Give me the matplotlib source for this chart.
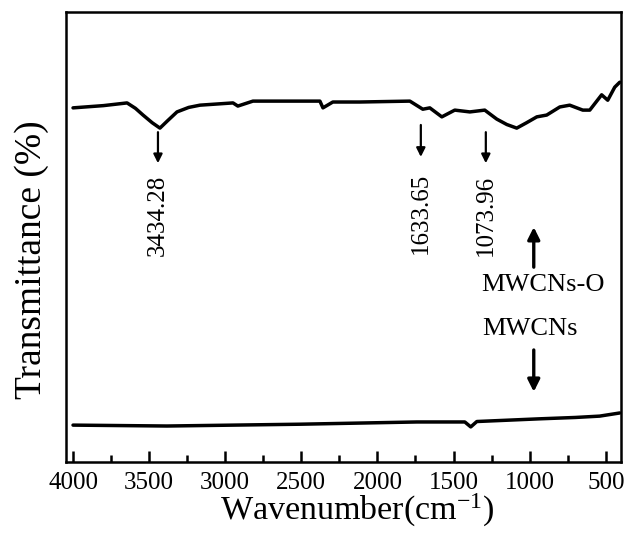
import matplotlib
matplotlib.use("Agg")
import matplotlib.pyplot as plt
from matplotlib.ticker import MultipleLocator

plt.rcParams['font.family'] = ['Liberation Serif', 'DejaVu Serif']
plt.rcParams['mathtext.fontset'] = 'custom'
plt.rcParams['mathtext.rm'] = 'Liberation Serif'
plt.rcParams['mathtext.it'] = 'Liberation Serif:italic'

# MWCNs-O spectrum (upper curve)
wn_o = [4000, 3800, 3645, 3590, 3540, 3480, 3429, 3380, 3317, 3240, 3166, 2949,
        2917, 2818, 2378, 2358, 2293, 2116, 1787, 1702, 1656, 1577, 1492, 1393,
        1295, 1216, 1150, 1085, 1020, 953, 888, 802, 737, 651, 605, 527, 487,
        441, 408]
t_o = [78.7, 79.2, 79.8, 78.6, 77.1, 75.4, 74.2, 75.8, 77.8, 78.8, 79.3, 79.8,
       79.1, 80.2, 80.2, 78.7, 80.0, 80.0, 80.2, 78.4, 78.7, 76.7, 78.2, 77.8,
       78.2, 76.2, 75.0, 74.2, 75.4, 76.7, 77.1, 78.9, 79.3, 78.2, 78.2, 81.6,
       80.4, 83.3, 84.4]

# MWCNs spectrum (lower curve)
wn_m = [4000, 3383, 2510, 1741, 1426, 1387, 1347, 934, 700, 540, 408]
t_m = [8.2, 8.0, 8.4, 8.9, 8.9, 7.8, 9.0, 9.6, 9.9, 10.2, 10.9]

# Peak annotations
peak_labels = ["3434.28", "1633.65", "1073.96"]
peak_x = [3442, 1715, 1288]
peak_tail = [73.3, 74.9, 73.3]
peak_head = [66.4, 67.8, 66.4]
peak_text_top = [63.8, 64.2, 63.8]

xticks = [4000, 3500, 3000, 2500, 2000, 1500, 1000, 500]

fig = plt.figure(figsize=(6.27, 5.34), dpi=100)
ax = fig.add_axes([0.1053, 0.1348, 0.8851, 0.8427])

ax.plot(wn_o, t_o, color='black', lw=2.5, solid_joinstyle='round', solid_capstyle='round')
ax.plot(wn_m, t_m, color='black', lw=2.5, solid_joinstyle='round', solid_capstyle='round')

ax.set_xlim(4046, 400)
ax.set_ylim(0, 100)
ax.set_xticks(xticks)
ax.set_xticklabels([str(v) for v in xticks], fontsize=18)
ax.xaxis.set_minor_locator(MultipleLocator(250))
ax.tick_params(axis='x', which='major', direction='in', length=8, width=1.8, pad=7)
ax.tick_params(axis='x', which='minor', direction='in', length=5, width=1.8)
ax.set_yticks([])
for s in ax.spines.values():
    s.set_linewidth(1.8)

ax.set_xlabel('Wavenumber(cm$^{\\mathregular{-1}}$)', fontsize=24.5)
ax.xaxis.set_label_coords(0.524, -0.066)
ax.set_ylabel('Transmittance (%)', fontsize=27)
ax.yaxis.set_label_coords(-0.03, 0.449)

arrow_kw = dict(arrowstyle='-|>', color='black', lw=1.6, mutation_scale=13,
                shrinkA=0, shrinkB=0)
for lab, x, t0, t1, tt in zip(peak_labels, peak_x, peak_tail, peak_head, peak_text_top):
    ax.annotate('', xy=(x, t1), xytext=(x, t0), arrowprops=arrow_kw)
    ax.text(x, tt, lab, rotation=90, ha='center', va='top', fontsize=18)

ax.text(914, 38, 'MWCNs-O', ha='center', va='baseline', fontsize=19)
ax.text(999, 28.2, 'MWCNs', ha='center', va='baseline', fontsize=19)
big_arrow = dict(arrowstyle='-|>', color='black', lw=2.4, mutation_scale=18,
                 shrinkA=0, shrinkB=0)
ax.annotate('', xy=(973, 52.2), xytext=(973, 43.3), arrowprops=big_arrow)
ax.annotate('', xy=(973, 15.6), xytext=(973, 24.9), arrowprops=big_arrow)

fig.savefig('out.png', dpi=100)
